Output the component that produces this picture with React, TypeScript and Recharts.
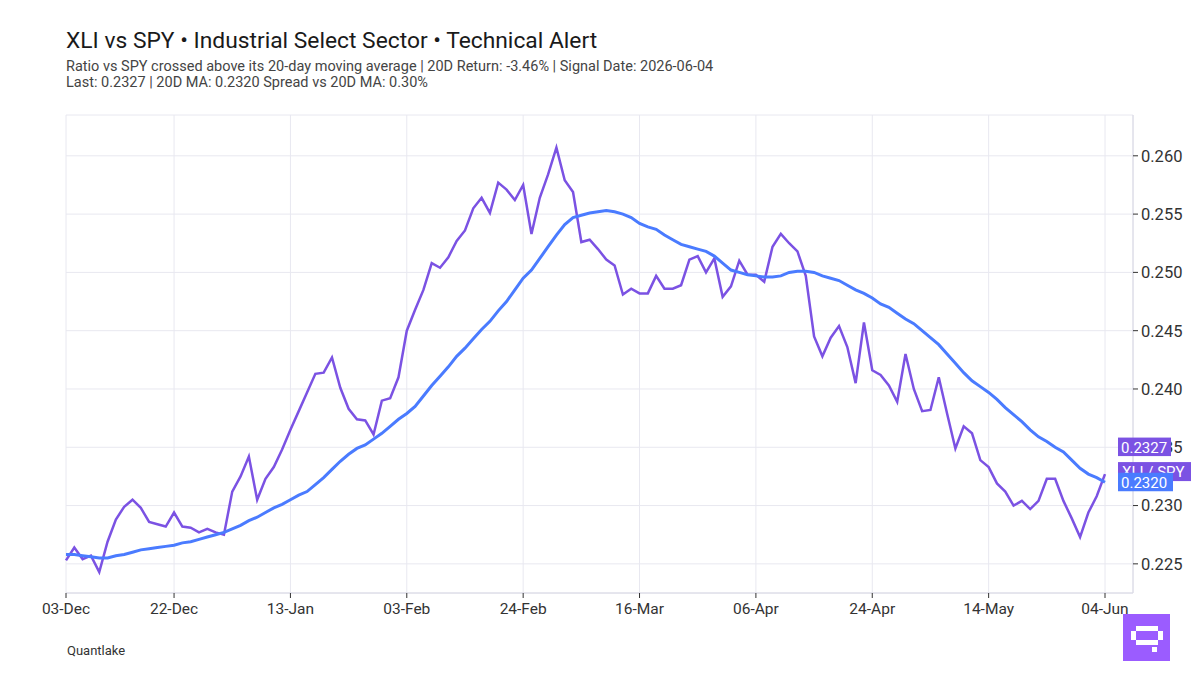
import React from "react";
import { LineChart, Line, XAxis, YAxis, CartesianGrid } from "recharts";

const dates: string[] = [
  "03-Dec","04-Dec","05-Dec","08-Dec","09-Dec","10-Dec","11-Dec","12-Dec","15-Dec","16-Dec",
  "17-Dec","18-Dec","19-Dec","22-Dec","23-Dec","24-Dec","26-Dec","29-Dec","30-Dec","31-Dec",
  "02-Jan","05-Jan","06-Jan","07-Jan","08-Jan","09-Jan","12-Jan","13-Jan","14-Jan","15-Jan",
  "16-Jan","20-Jan","21-Jan","22-Jan","23-Jan","26-Jan","27-Jan","28-Jan","29-Jan","30-Jan",
  "02-Feb","03-Feb","04-Feb","05-Feb","06-Feb","09-Feb","10-Feb","11-Feb","12-Feb","13-Feb",
  "17-Feb","18-Feb","19-Feb","20-Feb","23-Feb","24-Feb","25-Feb","26-Feb","27-Feb",
  "02-Mar","03-Mar","04-Mar","05-Mar","06-Mar","09-Mar","10-Mar","11-Mar","12-Mar","13-Mar",
  "16-Mar","17-Mar","18-Mar","19-Mar","20-Mar","23-Mar","24-Mar","25-Mar","26-Mar","27-Mar",
  "30-Mar","31-Mar",
  "01-Apr","02-Apr","06-Apr","07-Apr","08-Apr","09-Apr","10-Apr","13-Apr","14-Apr","15-Apr",
  "16-Apr","17-Apr","20-Apr","21-Apr","22-Apr","23-Apr","24-Apr","27-Apr","28-Apr","29-Apr","30-Apr",
  "01-May","04-May","05-May","06-May","07-May","08-May","11-May","12-May","13-May","14-May",
  "15-May","18-May","19-May","20-May","21-May","22-May","26-May","27-May","28-May","29-May",
  "01-Jun","02-Jun","03-Jun","04-Jun",
];

const ratio: number[] = [
  0.2253,0.2264,0.2254,0.2257,0.2243,0.2269,0.2288,0.2299,0.2305,0.2298,
  0.2286,0.2284,0.2282,0.2294,0.2282,0.2281,0.2277,0.2280,0.2277,0.2275,
  0.2312,0.2325,0.2342,0.2305,0.2323,0.2333,0.2348,0.2365,0.2381,0.2397,
  0.2413,0.2414,0.2427,0.2401,0.2383,0.2374,0.2373,0.2361,0.2390,0.2392,
  0.2410,0.2450,0.2468,0.2485,0.2508,0.2504,0.2513,0.2527,0.2536,0.2555,
  0.2564,0.2551,0.2577,0.2571,0.2562,0.2575,0.2533,0.2564,0.2584,0.2607,
  0.2579,0.2569,0.2526,0.2528,0.2520,0.2511,0.2506,0.2481,0.2486,0.2482,
  0.2482,0.2497,0.2486,0.2486,0.2489,0.2511,0.2514,0.2500,0.2512,0.2479,
  0.2488,0.2510,0.2498,0.2498,0.2492,0.2522,0.2533,0.2525,0.2518,0.2497,
  0.2445,0.2428,0.2444,0.2454,0.2436,0.2405,0.2457,0.2416,0.2412,0.2403,
  0.2389,0.2430,0.2400,0.2381,0.2382,0.2410,0.2379,0.2349,0.2368,0.2362,
  0.2339,0.2333,0.2319,0.2312,0.2300,0.2304,0.2297,0.2304,0.2323,0.2323,
  0.2304,0.2289,0.2273,0.2294,0.2308,0.2327,
];

const ma20: number[] = [
  0.2258,0.2258,0.2257,0.2256,0.2255,0.2255,0.2257,0.2258,0.2260,0.2262,
  0.2263,0.2264,0.2265,0.2266,0.2268,0.2269,0.2271,0.2273,0.2275,0.2277,
  0.2280,0.2283,0.2287,0.2290,0.2294,0.2298,0.2301,0.2305,0.2309,0.2312,
  0.2318,0.2324,0.2331,0.2338,0.2344,0.2349,0.2352,0.2357,0.2362,0.2368,
  0.2374,0.2379,0.2385,0.2394,0.2403,0.2411,0.2419,0.2428,0.2435,0.2443,
  0.2451,0.2458,0.2467,0.2475,0.2485,0.2495,0.2502,0.2512,0.2522,0.2532,
  0.2541,0.2547,0.2549,0.2551,0.2552,0.2553,0.2552,0.2550,0.2547,0.2542,
  0.2539,0.2537,0.2532,0.2528,0.2524,0.2522,0.2520,0.2518,0.2514,0.2508,
  0.2502,0.2500,0.2498,0.2497,0.2496,0.2496,0.2497,0.2500,0.2501,0.2501,
  0.2500,0.2497,0.2495,0.2493,0.2489,0.2485,0.2482,0.2478,0.2473,0.2470,
  0.2465,0.2460,0.2456,0.2450,0.2444,0.2438,0.2430,0.2422,0.2414,0.2407,
  0.2402,0.2397,0.2391,0.2384,0.2378,0.2372,0.2365,0.2359,0.2355,0.2350,
  0.2346,0.2339,0.2332,0.2327,0.2324,0.2320,
];

const xTicks: string[] = ["03-Dec","22-Dec","13-Jan","03-Feb","24-Feb","16-Mar","06-Apr","24-Apr","14-May","04-Jun"];
const yTicks: number[] = [0.225, 0.23, 0.235, 0.24, 0.245, 0.25, 0.255, 0.26];

const seriesName = "XLI / SPY";
const title = "XLI vs SPY \u2022 Industrial Select Sector \u2022 Technical Alert";
const subtitle1 = "Ratio vs SPY crossed above its 20-day moving average | 20D Return: -3.46% | Signal Date: 2026-06-04";
const subtitle2 = "Last: 0.2327 | 20D MA: 0.2320 Spread vs 20D MA: 0.30%";
const footer = "Quantlake";

const PURPLE = "#7B52E3";
const BLUE = "#4A7BFF";
const FONT = "Roboto, 'Noto Sans', sans-serif";

const data = dates.map((d, i) => ({ date: d, ratio: ratio[i], ma: ma20[i] }));
const lastIndex = data.length - 1;

const RatioLabel = (props: any) => {
  const { x, y, index, value } = props;
  if (index !== lastIndex || x == null || y == null) return null;
  const bx = x + 13;
  return (
    <g>
      <rect x={bx} y={y - 12} width={73} height={19} fill={PURPLE} />
      <text x={bx + 4} y={y + 3} fill="#fff" fontSize={15} fontFamily={FONT}>{seriesName}</text>
      <rect x={bx} y={y - 36.5} width={53} height={18.5} fill={PURPLE} />
      <text x={bx + 3} y={y - 21.5} fill="#fff" fontSize={15} fontFamily={FONT}>{Number(value).toFixed(4)}</text>
    </g>
  );
};

const MaLabel = (props: any) => {
  const { x, y, index, value } = props;
  if (index !== lastIndex || x == null || y == null) return null;
  const bx = x + 13;
  return (
    <g>
      <rect x={bx} y={y - 9.5} width={55} height={18.5} fill={BLUE} />
      <text x={bx + 3} y={y + 5.5} fill="#fff" fontSize={15} fontFamily={FONT}>{Number(value).toFixed(4)}</text>
    </g>
  );
};

export default function App() {
  return (
    <div style={{ position: "absolute", left: 0, top: 0, width: 1200, height: 675, background: "#fff", fontFamily: FONT }}>
      <LineChart width={1200} height={675} data={data} margin={{ top: 115, right: 7, bottom: 52, left: 66 }}>
        <CartesianGrid stroke="#e8e8f0" strokeWidth={1} />
        <XAxis
          dataKey="date"
          ticks={xTicks}
          interval={0}
          padding={{ left: 0, right: 28 }}
          axisLine={{ stroke: "#d8d8e4" }}
          tickLine={{ stroke: "#333" }}
          tickSize={5}
          tickMargin={5}
          height={30}
          tick={{ fontSize: 15.5, fill: "#333", fontFamily: FONT }}
        />
        <YAxis
          orientation="right"
          type="number"
          domain={[0.2225, 0.2635]}
          ticks={yTicks}
          allowDataOverflow
          width={60}
          tickFormatter={(v: number) => v.toFixed(3)}
          axisLine={{ stroke: "#d8d8e4" }}
          tickLine={{ stroke: "#333" }}
          tickSize={5}
          tickMargin={3}
          tick={{ fontSize: 16.5, fill: "#333", fontFamily: FONT }}
        />
        <Line type="linear" dataKey="ratio" stroke={PURPLE} strokeWidth={2.5} dot={false} isAnimationActive={false} label={RatioLabel} />
        <Line type="linear" dataKey="ma" stroke={BLUE} strokeWidth={3} dot={false} isAnimationActive={false} label={MaLabel} />
      </LineChart>
      <svg width={1200} height={675} style={{ position: "absolute", left: 0, top: 0, pointerEvents: "none" }}>
        <text x={66} y={48} fontSize={22.8} fill="#1a1a1a" fontFamily={FONT}>{title}</text>
        <text x={66} y={70.5} fontSize={14.5} fill="#444" fontFamily={FONT}>{subtitle1}</text>
        <text x={66} y={87} fontSize={14.5} fill="#444" fontFamily={FONT}>{subtitle2}</text>
        <text x={67} y={655} fontSize={13} fill="#333" fontFamily={FONT}>{footer}</text>
        <g>
          <rect x={1123} y={614} width={47} height={47} fill="#9B5CFF" />
          <rect x={1136} y={626} width={22} height={5} fill="#fff" />
          <rect x={1136} y={640} width={22} height={5} fill="#fff" />
          <rect x={1131} y={631} width={5} height={9} fill="#fff" />
          <rect x={1158} y={631} width={5} height={9} fill="#fff" />
          <rect x={1152} y={647} width={5} height={5} fill="#fff" />
        </g>
      </svg>
    </div>
  );
}
